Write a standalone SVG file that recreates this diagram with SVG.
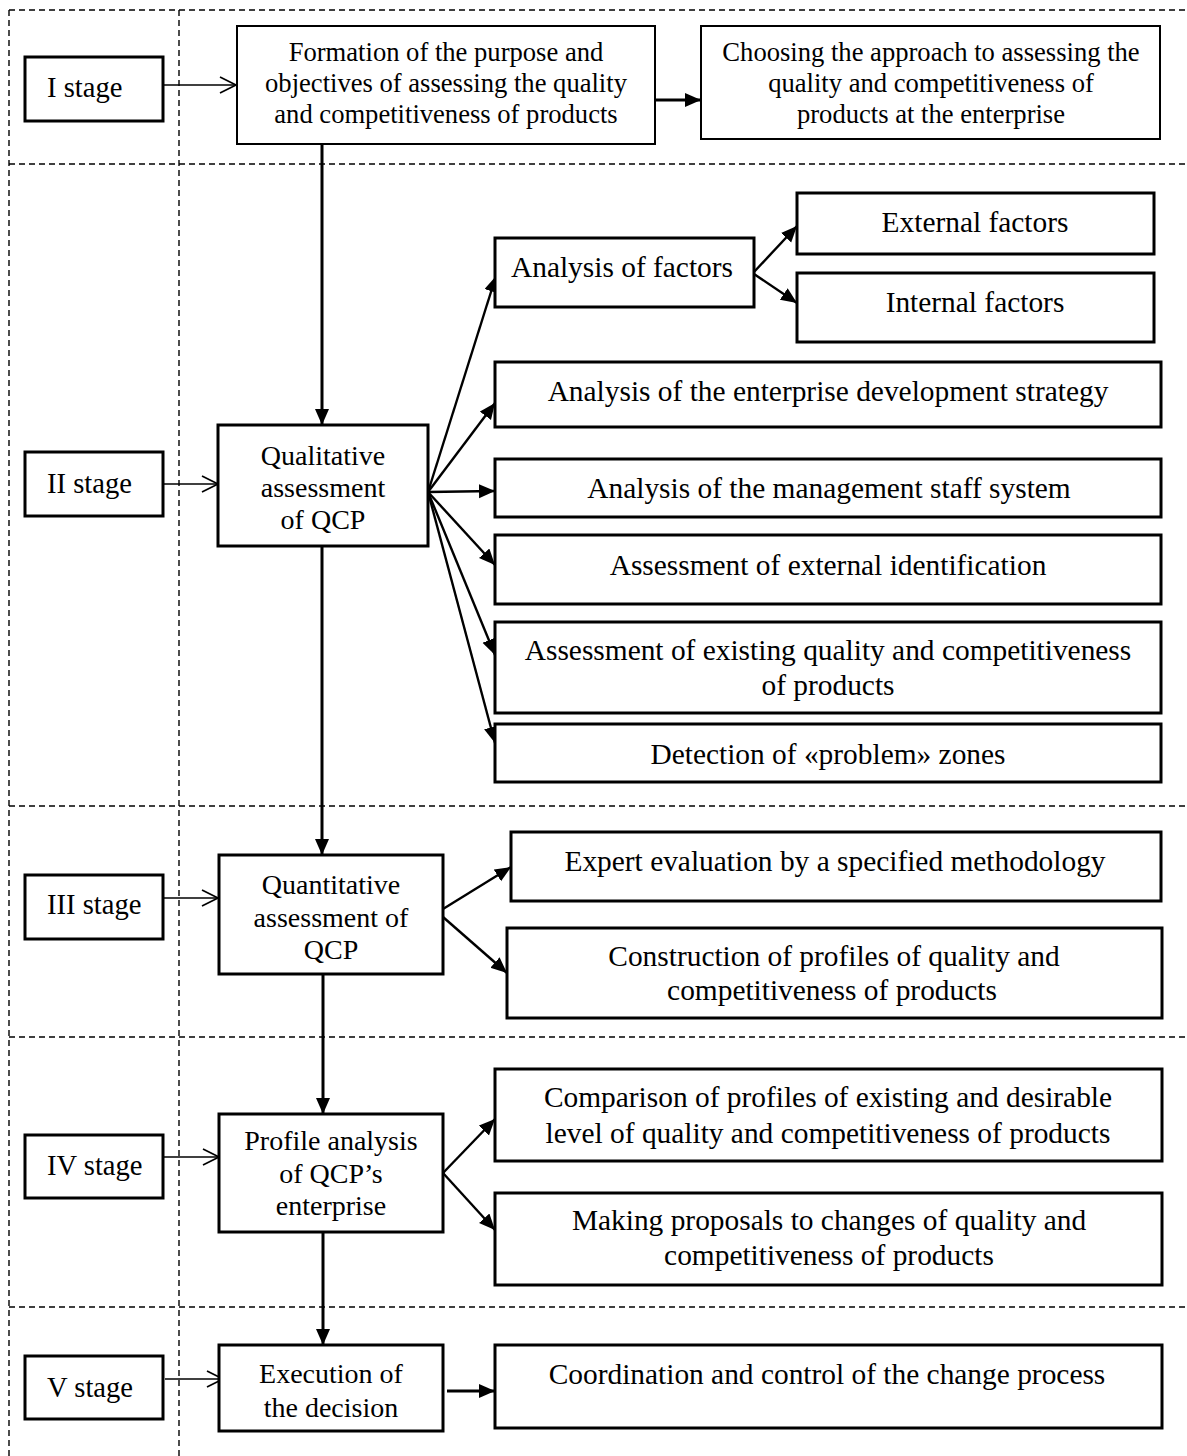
<svg xmlns="http://www.w3.org/2000/svg" width="1187" height="1456" viewBox="0 0 1187 1456">
  <style>
    text { font-family: "Liberation Serif", "Times New Roman", serif; fill: #000; }
    .t { font-size: 28px; text-anchor: middle; }
    .tr { font-size: 29.4px; text-anchor: middle; }
    .ts { font-size: 26.6px; text-anchor: middle; }
    .st { font-size: 28.6px; }
    .box { fill: #fff; stroke: #000; stroke-width: 3; }
    .thin { fill: #fff; stroke: #000; stroke-width: 2; }
    .grid { stroke: #000; stroke-width: 1.4; stroke-dasharray: 6 4; fill: none; }
    .main { stroke: #000; stroke-width: 3; fill: none; marker-end: url(#solid); }
    .fan { stroke: #000; stroke-width: 2.4; fill: none; marker-end: url(#solid); }
    .stage { stroke: #000; stroke-width: 1.7; fill: none; marker-end: url(#open); }
  </style>
  <defs>
    <marker id="solid" markerUnits="userSpaceOnUse" markerWidth="17" markerHeight="15" refX="16" refY="7" orient="auto">
      <path d="M0,0 L16,7 L0,14 z" fill="#000"/>
    </marker>
    <marker id="open" markerUnits="userSpaceOnUse" markerWidth="20" markerHeight="20" refX="17" refY="9" orient="auto">
      <path d="M1,1 L17,9 L1,17" fill="none" stroke="#000" stroke-width="1.7"/>
    </marker>
  </defs>

  <rect width="1187" height="1456" fill="#fff"/>

  <!-- stage grid -->
  <g id="grid">
    <line class="grid" x1="9" y1="10" x2="1187" y2="10"/>
    <line class="grid" x1="9" y1="164" x2="1187" y2="164"/>
    <line class="grid" x1="9" y1="806" x2="1187" y2="806"/>
    <line class="grid" x1="9" y1="1037" x2="1187" y2="1037"/>
    <line class="grid" x1="9" y1="1307" x2="1187" y2="1307"/>
    <line class="grid" x1="9" y1="10" x2="9" y2="1456"/>
    <line class="grid" x1="179" y1="10" x2="179" y2="1456"/>
  </g>

  <!-- connectors -->
  <g id="connectors">
    <line class="stage" x1="163" y1="85" x2="236" y2="85"/>
    <line class="stage" x1="163" y1="484" x2="218" y2="484"/>
    <line class="stage" x1="161" y1="898" x2="218" y2="898"/>
    <line class="stage" x1="163" y1="1157" x2="219" y2="1157"/>
    <line class="stage" x1="165" y1="1379" x2="223" y2="1379"/>

    <line class="main" x1="655" y1="100" x2="701" y2="100"/>
    <line class="main" x1="322" y1="144" x2="322" y2="425"/>
    <line class="main" x1="322" y1="546" x2="322" y2="855"/>
    <line class="main" x1="323" y1="974" x2="323" y2="1114"/>
    <line class="main" x1="323" y1="1232" x2="323" y2="1345"/>
    <line class="main" x1="447" y1="1391" x2="495" y2="1391"/>

    <line class="fan" x1="428" y1="492" x2="496" y2="276"/>
    <line class="fan" x1="428" y1="492" x2="495" y2="403"/>
    <line class="fan" x1="428" y1="492" x2="495" y2="491"/>
    <line class="fan" x1="428" y1="492" x2="495" y2="565"/>
    <line class="fan" x1="428" y1="492" x2="495" y2="655"/>
    <line class="fan" x1="428" y1="492" x2="495" y2="743"/>

    <line class="fan" x1="754" y1="272" x2="797" y2="226"/>
    <line class="fan" x1="754" y1="274" x2="797" y2="303"/>

    <line class="fan" x1="443" y1="909" x2="511" y2="867"/>
    <line class="fan" x1="443" y1="917" x2="507" y2="973"/>

    <line class="fan" x1="443" y1="1173" x2="495" y2="1119"/>
    <line class="fan" x1="443" y1="1173" x2="495" y2="1230"/>
  </g>

  <!-- stage labels -->
  <g id="stage1"><rect class="box" x="25" y="57" width="138" height="64"/><text class="st" x="47" y="97">I stage</text></g>
  <g id="stage2"><rect class="box" x="25" y="452" width="138" height="64"/><text class="st" x="47" y="493">II stage</text></g>
  <g id="stage3"><rect class="box" x="25" y="875" width="138" height="64"/><text class="st" x="47" y="914">III stage</text></g>
  <g id="stage4"><rect class="box" x="25" y="1135" width="138" height="63"/><text class="st" x="47" y="1175">IV stage</text></g>
  <g id="stage5"><rect class="box" x="25" y="1356" width="138" height="63"/><text class="st" x="47" y="1397">V stage</text></g>

  <!-- stage I -->
  <g id="formation">
    <rect class="thin" x="237" y="26" width="418" height="118"/>
    <text class="ts" x="446" y="61">Formation of the purpose and</text>
    <text class="ts" x="446" y="92">objectives of assessing the quality</text>
    <text class="ts" x="446" y="123">and competitiveness of products</text>
  </g>
  <g id="approach">
    <rect class="thin" x="701" y="26" width="459" height="113"/>
    <text class="ts" x="931" y="61">Choosing the approach to assessing the</text>
    <text class="ts" x="931" y="92">quality and competitiveness of</text>
    <text class="ts" x="931" y="123">products at the enterprise</text>
  </g>

  <!-- stage II -->
  <g id="qualitative">
    <rect class="box" x="218" y="425" width="210" height="121"/>
    <text class="t" x="323" y="465">Qualitative</text>
    <text class="t" x="323" y="497">assessment</text>
    <text class="t" x="323" y="529">of QCP</text>
  </g>
  <g id="factors">
    <rect class="box" x="495" y="238" width="259" height="69"/>
    <text class="tr" x="622" y="277">Analysis of factors</text>
  </g>
  <g id="external-factors">
    <rect class="box" x="797" y="193" width="357" height="61"/>
    <text class="tr" x="975" y="232">External factors</text>
  </g>
  <g id="internal-factors">
    <rect class="box" x="797" y="273" width="357" height="69"/>
    <text class="tr" x="975" y="312">Internal factors</text>
  </g>
  <g id="strategy">
    <rect class="box" x="495" y="362" width="666" height="65"/>
    <text class="tr" x="828" y="401">Analysis of the enterprise development strategy</text>
  </g>
  <g id="staff">
    <rect class="box" x="495" y="459" width="666" height="58"/>
    <text class="tr" x="829" y="498">Analysis of the management staff system</text>
  </g>
  <g id="identification">
    <rect class="box" x="495" y="535" width="666" height="69"/>
    <text class="tr" x="828" y="575">Assessment of external identification</text>
  </g>
  <g id="existing">
    <rect class="box" x="495" y="622" width="666" height="91"/>
    <text class="tr" x="828" y="660">Assessment of existing quality and competitiveness</text>
    <text class="tr" x="828" y="695">of products</text>
  </g>
  <g id="problems">
    <rect class="box" x="495" y="724" width="666" height="58"/>
    <text class="tr" x="828" y="764">Detection of «problem» zones</text>
  </g>

  <!-- stage III -->
  <g id="quantitative">
    <rect class="box" x="219" y="855" width="224" height="119"/>
    <text class="t" x="331" y="894">Quantitative</text>
    <text class="t" x="331" y="927">assessment of</text>
    <text class="t" x="331" y="959">QCP</text>
  </g>
  <g id="expert">
    <rect class="box" x="511" y="832" width="650" height="69"/>
    <text class="tr" x="835" y="871">Expert evaluation by a specified methodology</text>
  </g>
  <g id="profiles">
    <rect class="box" x="507" y="928" width="655" height="90"/>
    <text class="tr" x="834" y="966">Construction of profiles of quality and</text>
    <text class="tr" x="832" y="1000">competitiveness of products</text>
  </g>

  <!-- stage IV -->
  <g id="profile-analysis">
    <rect class="box" x="219" y="1114" width="224" height="118"/>
    <text class="t" x="331" y="1150">Profile analysis</text>
    <text class="t" x="331" y="1183">of QCP’s</text>
    <text class="t" x="331" y="1215">enterprise</text>
  </g>
  <g id="comparison">
    <rect class="box" x="495" y="1069" width="667" height="92"/>
    <text class="tr" x="828" y="1107">Comparison of profiles of existing and desirable</text>
    <text class="tr" x="828" y="1143">level of quality and competitiveness of products</text>
  </g>
  <g id="proposals">
    <rect class="box" x="495" y="1193" width="667" height="92"/>
    <text class="tr" x="829" y="1230">Making proposals to changes of quality and</text>
    <text class="tr" x="829" y="1265">competitiveness of products</text>
  </g>

  <!-- stage V -->
  <g id="execution">
    <rect class="box" x="219" y="1345" width="224" height="86"/>
    <text class="t" x="331" y="1383">Execution of</text>
    <text class="t" x="331" y="1417">the decision</text>
  </g>
  <g id="coordination">
    <rect class="box" x="495" y="1345" width="667" height="83"/>
    <text class="tr" x="827" y="1384">Coordination and control of the change process</text>
  </g>
</svg>
